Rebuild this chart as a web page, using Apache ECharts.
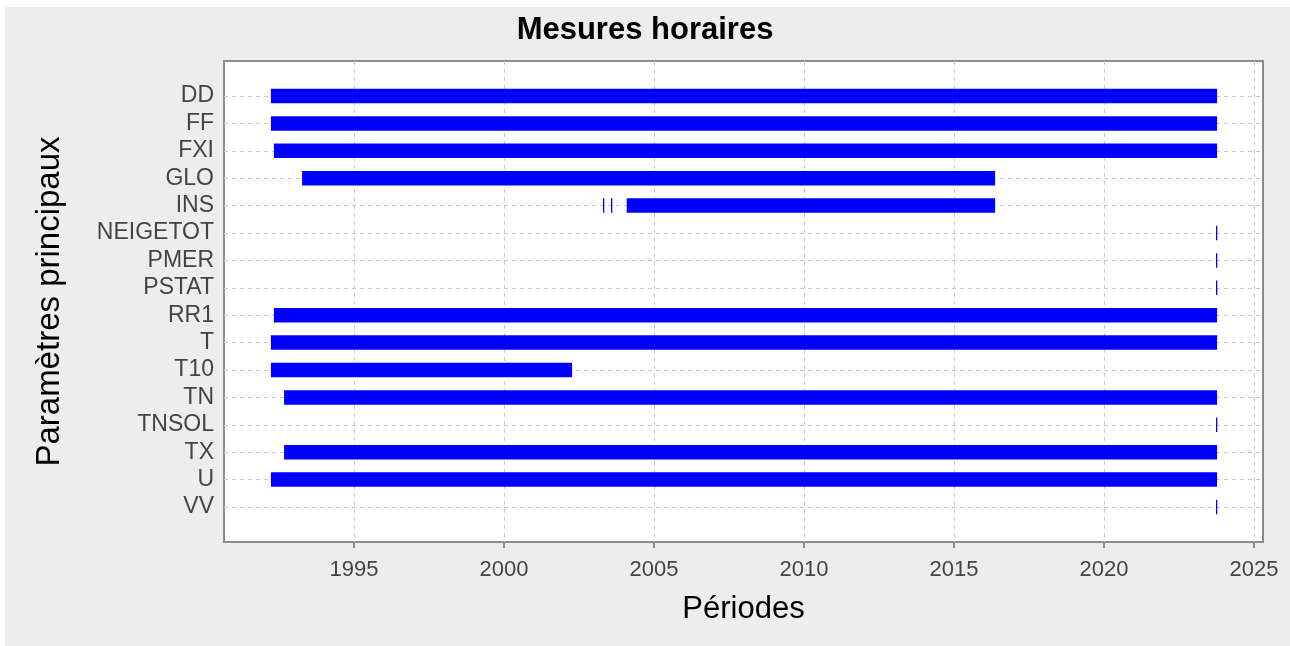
<!DOCTYPE html>
<html>
<head>
<meta charset="utf-8">
<script src="https://cdn.jsdelivr.net/npm/echarts@6/dist/echarts.min.js"></script>
<style>
  html, body { margin: 0; padding: 0; background: #ffffff; }
  #bg { position: absolute; left: 5px; top: 7px; width: 1285px; height: 639px; background: #ededed; }
  #chart { position: absolute; left: 0; top: 0; width: 1290px; height: 646px; }
</style>
</head>
<body>
<div id="bg"></div>
<div id="chart"></div>
<script>
// ---- data ----
const categories = ['DD', 'FF', 'FXI', 'GLO', 'INS', 'NEIGETOT', 'PMER', 'PSTAT', 'RR1', 'T', 'T10', 'TN', 'TNSOL', 'TX', 'U', 'VV'];
// each segment: parameter, start year, end year
const segParam = ['DD', 'FF', 'FXI', 'GLO', 'INS', 'INS', 'INS', 'NEIGETOT', 'PMER', 'PSTAT', 'RR1', 'T', 'T10', 'TN', 'TNSOL', 'TX', 'U', 'VV'];
const segStart = [1992.23, 1992.23, 1992.33, 1993.27, 2003.31, 2003.59, 2004.09, 2023.76, 2023.76, 2023.76, 1992.33, 1992.23, 1992.23, 1992.67, 2023.76, 1992.67, 1992.23, 2023.76];
const segEnd   = [2023.77, 2023.77, 2023.77, 2016.37, 2003.31, 2003.59, 2016.37, 2023.76, 2023.76, 2023.76, 2023.77, 2023.77, 2002.27, 2023.77, 2023.76, 2023.77, 2023.77, 2023.76];
const xTicks = [1995, 2000, 2005, 2010, 2015, 2020, 2025];
const xMin = 1990.667, xMax = 2025.3;

const segData = segParam.map((p, i) => [categories.indexOf(p), segStart[i], segEnd[i]]);

const FONT = '"Liberation Sans", Arial, sans-serif';
const chart = echarts.init(document.getElementById('chart'), null, { renderer: 'canvas' });

const dashed = { color: '#c8c8c8', width: 1, type: [4, 4] };

chart.setOption({
  backgroundColor: 'transparent',
  animation: false,
  title: {
    text: 'Mesures horaires',
    left: 'center',
    top: 10,
    textStyle: { fontFamily: FONT, fontSize: 31, fontWeight: 'bold', color: '#000' }
  },
  grid: [
    { left: 224, right: 27, top: 61, height: 481, show: true, backgroundColor: '#ffffff', borderColor: '#8c8c8c', borderWidth: 2 },
    { left: 224, right: 27, top: 96, height: 411 }
  ],
  xAxis: [
    {
      gridIndex: 0, type: 'value', min: xMin, max: xMax,
      name: 'Périodes', nameLocation: 'middle', nameGap: 52,
      nameTextStyle: { fontFamily: FONT, fontSize: 31, color: '#000' },
      axisLine: { show: false },
      axisTick: { show: true, length: 6, lineStyle: { color: '#8c8c8c', width: 2 }, customValues: xTicks },
      axisLabel: { fontFamily: FONT, fontSize: 22, color: '#444', margin: 17, customValues: xTicks, formatter: v => String(v) },
      splitLine: { show: true, lineStyle: dashed }
    },
    { gridIndex: 1, type: 'value', min: xMin, max: xMax, show: false }
  ],
  yAxis: [
    { gridIndex: 0, type: 'value', show: false, min: 0, max: 1, splitLine: { show: false } },
    {
      gridIndex: 1, type: 'category', data: categories, inverse: true, boundaryGap: false,
      name: 'Paramètres principaux', nameLocation: 'middle', nameGap: 158,
      nameTextStyle: { fontFamily: FONT, fontSize: 33, color: '#000' },
      axisLine: { show: false },
      axisTick: { show: false },
      axisLabel: { fontFamily: FONT, fontSize: 23, color: '#444', margin: 10, interval: 0 },
      splitLine: { show: true, interval: 0, lineStyle: dashed }
    }
  ],
  series: [{
    type: 'custom',
    xAxisIndex: 1, yAxisIndex: 1,
    encode: { x: [1, 2], y: 0 },
    data: segData,
    renderItem: function (params, api) {
      const c = api.value(0), s = api.value(1), e = api.value(2);
      const p0 = api.coord([s, c]);
      const p1 = api.coord([e, c]);
      const h = api.size([0, 1])[1] * 0.53;
      let w = p1[0] - p0[0];
      let x = p0[0];
      if (w < 1) { w = 1.3; x = Math.floor(x); }
      return {
        type: 'rect',
        shape: { x: x, y: p0[1] - h / 2, width: w, height: h },
        style: { fill: '#0000ff' }
      };
    }
  }]
});
</script>
</body>
</html>
